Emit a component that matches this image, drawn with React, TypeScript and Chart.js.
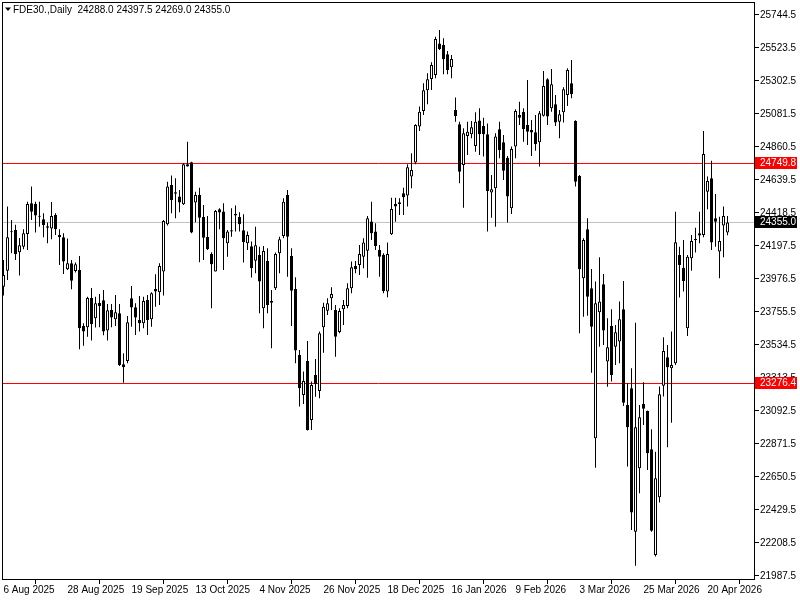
import React, { useEffect, useRef } from "react";
import { Chart, registerables } from "chart.js";

Chart.register(...registerables);

// ---- data ----
const symbol = "FDE30.";
const period = "Daily";

const opens = [
  23925, 24032, 24289, 24305, 24155, 24193, 24278, 24483, 24479, 24398,
  24376, 24329, 24314, 24405, 24271, 24256, 24041, 24081, 24030, 24037,
  23662, 23653, 23849, 23713, 23816, 23834, 23631, 23769, 23706, 23747,
  23405, 23427, 23847, 23787, 23702, 23680, 23836, 23706, 23910, 23887,
  24026, 24343, 24606, 24557, 24528, 24477, 24745, 24758, 24488, 24539,
  24392, 24258, 24144, 24026, 24443, 24428, 24215, 24294, 24412, 24392,
  24303, 24215, 24195, 24099, 24137, 23780, 24097, 23829, 23914, 24148,
  24265, 24539, 24131, 23910, 23468, 23200, 23427, 23032, 23334, 23227,
  23653, 23764, 23847, 23769, 23622, 23773, 23796, 23914, 24064, 24070,
  24126, 24166, 24361, 24294, 24171, 24137, 23892, 24276, 24479, 24479,
  24550, 24535, 24662, 24756, 24997, 25102, 25240, 25316, 25343, 25553,
  25544, 25481, 25394, 25108, 25012, 24740, 24934, 24945, 24867, 25037,
  25001, 24945, 24555, 24584, 24979, 24892, 24789, 24450, 24863, 25075,
  25095, 25008, 24974, 24959, 24892, 25070, 25314, 25119, 25146, 25030,
  25093, 25209, 25287, 25035, 24666, 23981, 24309, 23914, 22910, 23753,
  23941, 23423, 23662, 23523, 23557, 23773, 23133, 23244, 22284, 22709,
  23139, 23093, 22836, 22128, 22514, 23262, 23452, 23378, 23412, 24137,
  24052, 23646, 24115, 24238, 24282, 24271, 24561, 24651, 24383, 24160,
  24334, 24288,
];
const highs = [
  24104, 24461, 24372, 24340, 24251, 24309, 24494, 24595, 24494, 24494,
  24416, 24354, 24492, 24416, 24309, 24282, 24247, 24104, 24086, 24131,
  23680, 23858, 23916, 23858, 23876, 23903, 23809, 23809, 23869, 23809,
  23479, 23729, 23930, 23814, 23863, 23858, 23869, 23887, 24008, 24082,
  24372, 24628, 24669, 24651, 24573, 24751, 24896, 24762, 24561, 24588,
  24472, 24398, 24155, 24439, 24450, 24483, 24305, 24450, 24468, 24423,
  24410, 24294, 24227, 24327, 24193, 24198, 24182, 23903, 24153, 24260,
  24517, 24573, 24182, 23988, 23501, 23356, 23561, 23289, 23441, 23624,
  23818, 23847, 23921, 23802, 23780, 23836, 23948, 24093, 24097, 24204,
  24249, 24398, 24494, 24349, 24204, 24148, 24220, 24520, 24521, 24517,
  24588, 24744, 24818, 25012, 25131, 25287, 25354, 25428, 25599, 25644,
  25588, 25503, 25477, 25191, 25030, 24986, 25030, 25035, 25093, 25119,
  25057, 25017, 24673, 24952, 25030, 24941, 24800, 24863, 25113, 25164,
  25119, 25309, 25041, 25075, 25102, 25370, 25320, 25383, 25209, 25108,
  25260, 25387, 25443, 25040, 24673, 24249, 24383, 24043, 23959, 24122,
  24010, 23713, 23773, 23668, 23825, 23963, 23278, 23378, 23684, 23133,
  23285, 23095, 22970, 22820, 23256, 23586, 23535, 23624, 24427, 24193,
  24238, 24137, 24271, 24320, 24427, 24968, 24662, 24769, 24546, 24394,
  24461, 24397.5,
];
const lows = [
  23865, 23970, 24148, 24104, 23999, 24175, 24171, 24372, 24287, 24327,
  24256, 24215, 24242, 24271, 24070, 24010, 24037, 23907, 24019, 23506,
  23530, 23590, 23564, 23651, 23653, 23599, 23564, 23653, 23662, 23394,
  23282, 23412, 23657, 23602, 23624, 23646, 23602, 23657, 23791, 23802,
  23865, 24334, 24416, 24383, 24423, 24472, 24729, 24282, 24356, 24088,
  24104, 24171, 23780, 24026, 24309, 24037, 24126, 24260, 24294, 24294,
  24086, 24171, 23986, 24015, 23747, 23646, 23747, 23512, 23903, 24015,
  24249, 23992, 23662, 23412, 23122, 23139, 22961, 22965, 23188, 23177,
  23483, 23735, 23769, 23456, 23613, 23669, 23780, 23881, 24015, 24003,
  24048, 23985, 24238, 24171, 23992, 23881, 23854, 24271, 24360, 24405,
  24405, 24461, 24584, 24744, 24968, 25075, 25146, 25242, 25320, 25510,
  25347, 25347, 25320, 25030, 24617, 24454, 24807, 24919, 24829, 24807,
  24796, 24294, 24387, 24327, 24785, 24640, 24354, 24412, 24785, 25008,
  24896, 24874, 24800, 24836, 24729, 25064, 25008, 25097, 25001, 24919,
  25024, 25135, 25186, 24595, 23613, 23724, 23730, 23349, 22713, 23523,
  23535, 23255, 23289, 23401, 23412, 23126, 22720, 22296, 22055, 22541,
  22999, 22697, 22284, 22117, 22479, 23189, 22849, 23014, 23401, 23852,
  23892, 23595, 24032, 24153, 24215, 24256, 24443, 24171, 24193, 23981,
  24122, 24269,
];
const closes = [
  24003, 24256, 24294, 24142, 24202, 24282, 24479, 24427, 24401, 24394,
  24338, 24320, 24398, 24309, 24256, 24093, 24081, 23965, 24075, 23646,
  23624, 23849, 23673, 23814, 23796, 23624, 23767, 23718, 23753, 23401,
  23385, 23686, 23785, 23718, 23680, 23829, 23702, 23881, 23892, 24064,
  24365, 24595, 24506, 24548, 24488, 24745, 24730, 24287, 24539, 24387,
  24253, 24175, 24075, 24432, 24421, 24249, 24294, 24303, 24401, 24343,
  24222, 24271, 24048, 24202, 23959, 24164, 23802, 23818, 24144, 24242,
  24494, 24260, 23898, 23497, 23244, 23293, 22965, 23267, 23273, 23613,
  23791, 23814, 23876, 23590, 23762, 23802, 23914, 24055, 24041, 24144,
  24220, 24383, 24282, 24198, 24126, 23896, 24144, 24445, 24461, 24490,
  24523, 24724, 24707, 25008, 25097, 25240, 25314, 25410, 25584, 25517,
  25448, 25376, 25450, 25068, 24695, 24952, 24963, 24992, 25030, 24945,
  24945, 24566, 24577, 24930, 24840, 24702, 24528, 24847, 25102, 25057,
  24981, 24963, 24957, 24878, 25086, 25269, 25064, 25280, 25024, 25079,
  25247, 25376, 25213, 24628, 24041, 24238, 23858, 23657, 23814, 23825,
  23631, 23519, 23334, 23619, 23706, 23148, 22983, 22412, 22983, 23050,
  23108, 22809, 22291, 22642, 23204, 23494, 23385, 23401, 24222, 24070,
  23963, 24126, 24231, 24244, 24267, 24814, 24633, 24220, 24360, 24231,
  24398, 24355,
];

// one date label every 16 daily bars
const dateLabels = [
  "6 Aug 2025", "28 Aug 2025", "19 Sep 2025", "13 Oct 2025",
  "4 Nov 2025", "26 Nov 2025", "18 Dec 2025", "16 Jan 2026",
  "9 Feb 2026", "3 Mar 2026", "25 Mar 2026", "20 Apr 2026",
];
const barsPerDateLabel = 16;

const priceTicks = [
  25744.5, 25523.5, 25302.5, 25081.5, 24860.5, 24639.5, 24418.5, 24197.5,
  23976.5, 23755.5, 23534.5, 23313.5, 23092.5, 22871.5, 22650.5, 22429.5,
  22208.5, 21987.5,
];
const levelLines = [24749.8, 23276.4];
const bidPrice = 24355.0;

// ---- view range ----
const X_MIN = -0.375;
const X_MAX = 187.875;
const Y_MAX = 25831.4;
const Y_MIN = 21960.4;

const FONT = "'Liberation Sans', Arial, sans-serif";

export default function App() {
  const ref = useRef<HTMLCanvasElement | null>(null);

  useEffect(() => {
    document.body.style.margin = "0";
    const canvas = ref.current;
    if (!canvas) return;

    const idx = closes.map((_, i) => i);
    const wickData = idx.map((i) => ({ x: i, y: [lows[i], highs[i]] }));
    const bodyData = idx.map((i) => ({ x: i, y: [opens[i], closes[i]] }));
    const bodyFill = idx.map((i) => (closes[i] >= opens[i] ? "#ffffff" : "#000000"));
    const hLine = (v: number) => [
      { x: X_MIN, y: v },
      { x: X_MAX, y: v },
    ];

    const framePlugin = {
      id: "frame",
      afterDatasetsDraw(chart: any) {
        const { ctx, chartArea } = chart;
        ctx.save();
        ctx.strokeStyle = "#000000";
        ctx.lineWidth = 1;
        ctx.strokeRect(
          Math.round(chartArea.left) + 0.5,
          Math.round(chartArea.top) + 0.5,
          Math.round(chartArea.right - chartArea.left) - 1,
          Math.round(chartArea.bottom - chartArea.top) - 1
        );
        ctx.restore();
      },
      afterDraw(chart: any) {
        const { ctx, chartArea } = chart;
        const ys = chart.scales.y;
        ctx.save();
        ctx.font = `10px ${FONT}`;
        ctx.textBaseline = "middle";
        ctx.textAlign = "left";
        const box = (v: number, color: string) => {
          const y = Math.floor(ys.getPixelForValue(v));
          ctx.fillStyle = color;
          ctx.fillRect(Math.round(chartArea.right), y - 6, 42, 12);
          ctx.fillStyle = "#ffffff";
          ctx.fillText(v.toFixed(1), Math.round(chartArea.right) + 5, y + 0.5);
        };
        levelLines.forEach((v) => box(v, "#ff0000"));
        box(bidPrice, "#000000");

        // title
        const last = closes.length - 1;
        ctx.fillStyle = "#000000";
        ctx.beginPath();
        ctx.moveTo(5, 7.5);
        ctx.lineTo(11, 7.5);
        ctx.lineTo(8, 11);
        ctx.closePath();
        ctx.fill();
        ctx.textBaseline = "alphabetic";
        ctx.fillText(
          `${symbol},${period}  ${opens[last].toFixed(1)} ${highs[last].toFixed(1)} ${lows[last].toFixed(1)} ${closes[last].toFixed(1)}`,
          13,
          13
        );
        ctx.restore();
      },
    };

    const chart = new Chart(canvas, {
      type: "bar",
      data: {
        datasets: [
          {
            type: "bar",
            label: "body",
            data: bodyData as any,
            backgroundColor: bodyFill,
            borderColor: "#000000",
            borderWidth: 1,
            borderSkipped: false,
            barThickness: 3,
            minBarLength: 1,
            grouped: false,
            inflateAmount: 0,
            order: 0,
          } as any,
          {
            type: "bar",
            label: "wick",
            data: wickData as any,
            backgroundColor: "#000000",
            borderWidth: 0,
            barThickness: 1,
            grouped: false,
            inflateAmount: 0,
            order: 1,
          } as any,
          {
            type: "line",
            label: "level1",
            data: hLine(levelLines[0]) as any,
            borderColor: "#ff0000",
            borderWidth: 1,
            pointRadius: 0,
            order: 2,
          } as any,
          {
            type: "line",
            label: "level2",
            data: hLine(levelLines[1]) as any,
            borderColor: "#ff0000",
            borderWidth: 1,
            pointRadius: 0,
            order: 2,
          } as any,
          {
            type: "line",
            label: "bid",
            data: hLine(bidPrice) as any,
            borderColor: "#c0c0c0",
            borderWidth: 1,
            pointRadius: 0,
            order: 3,
          } as any,
        ],
      },
      options: {
        animation: false,
        responsive: false,
        devicePixelRatio: 1,
        layout: { padding: { left: 2, top: 2, right: 0, bottom: 0 } },
        plugins: {
          legend: { display: false },
          tooltip: { enabled: false },
        },
        events: [],
        scales: {
          x: {
            type: "linear",
            position: "bottom",
            min: X_MIN,
            max: X_MAX,
            offset: false,
            afterBuildTicks: (s: any) => {
              s.ticks = dateLabels.map((_, k) => ({ value: k * barsPerDateLabel }));
            },
            afterFit: (s: any) => {
              s.height = 20;
              s.paddingLeft = 0;
              s.paddingRight = 0;
              s.paddingTop = 0;
              s.paddingBottom = 0;
            },
            grid: {
              display: true,
              drawOnChartArea: false,
              drawTicks: true,
              tickLength: 4,
              color: "#000000",
              tickColor: "#000000",
            },
            border: { display: false },
            ticks: {
              align: "start",
              maxRotation: 0,
              minRotation: 0,
              autoSkip: false,
              padding: 0,
              color: "#000000",
              font: { family: FONT, size: 10 },
              callback: (v: any) => dateLabels[Math.round(Number(v) / barsPerDateLabel)] ?? "",
            },
          },
          y: {
            type: "linear",
            position: "right",
            min: Y_MIN,
            max: Y_MAX,
            afterBuildTicks: (s: any) => {
              s.ticks = priceTicks.map((v) => ({ value: v }));
            },
            afterFit: (s: any) => {
              s.width = 45;
              s.paddingTop = 0;
              s.paddingBottom = 0;
              s.paddingLeft = 0;
              s.paddingRight = 0;
            },
            grid: {
              display: true,
              drawOnChartArea: false,
              drawTicks: true,
              tickLength: 4,
              color: "#000000",
              tickColor: "#000000",
            },
            border: { display: false },
            ticks: {
              autoSkip: false,
              padding: 1,
              color: "#000000",
              font: { family: FONT, size: 10 },
              callback: (v: any) => Number(v).toFixed(1),
            },
          },
        },
      } as any,
      plugins: [framePlugin],
    });

    return () => {
      chart.destroy();
    };
  }, []);

  return (
    <div style={{ position: "absolute", left: 0, top: 0, width: 800, height: 600, background: "#ffffff" }}>
      <canvas ref={ref} width={800} height={600} style={{ display: "block" }} />
    </div>
  );
}
